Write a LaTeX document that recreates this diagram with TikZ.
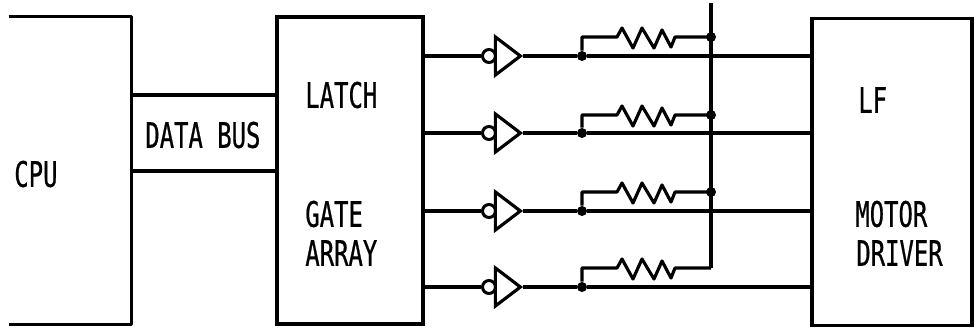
\documentclass[tikz,border=0pt]{standalone}
\usepackage{fontspec}
\setmainfont[FakeStretch=0.68,FakeBold=0.6]{DejaVu Sans Mono}
\usetikzlibrary{shapes.geometric}
\tikzset{
    wire/.style={line width=1.8pt, line join=round},
    blockbox/.style={draw, line width=1.8pt, minimum width=#1, minimum height=6.14cm, inner sep=0pt},
    openbox/.style={minimum width=2.44cm, minimum height=6.14cm, inner sep=0pt},
    inverter/.style={isosceles triangle, isosceles triangle apex angle=75, isosceles triangle stretches, draw, line width=1.8pt, minimum width=0.76cm, minimum height=0.5cm, inner sep=0pt, anchor=apex},
    bubble/.style={circle, draw, line width=1.7pt, minimum size=0.26cm, inner sep=0pt},
    junction/.style={circle, fill=black, minimum size=0.2cm, inner sep=0pt},
    label/.style={font=\fontsize{20}{24}\selectfont, inner sep=0pt, anchor=west}
}

\begin{document}
\begin{tikzpicture}[x=0.02cm, y=-0.02cm]
    \useasboundingbox (0,0) rectangle (980,329);
    % blocks
    \node[openbox] (cpu) at (70,170.5) {};
    \node[blockbox=2.92cm] (gate) at (350,170.5) {};
    \node[blockbox=3.2cm] (driver) at (892,172) {};
    \draw[wire] (cpu.north west) -- (cpu.north east) -- (cpu.south east) -- (cpu.south west);
    % data bus
    \coordinate (busa) at (131,95);
    \coordinate (busb) at (131,171);
    \draw[wire] (busa) -- (busa -| gate.west);
    \draw[wire] (busb) -- (busb -| gate.west);
    % rail
    \coordinate (railtop) at (711,3);
    \coordinate (raild) at (711,268);
    \draw[wire] (railtop) -- (raild);
    % four driver lines
    \foreach \n/\y/\r in {a/56/37,b/133/115,c/211/192,d/287/268}{
        \node[bubble] (bub\n) at (489,\y) {};
        \node[inverter] (inv\n) at (523,\y) {};
        \node[junction] (tap\n) at (582,\y) {};
        \coordinate (resl\n) at (617,\r);
        \coordinate (resr\n) at (675,\r);
        \coordinate (rail\n) at (711,\r);
        \draw[wire] (bub\n -| gate.east) -- (bub\n);
        \draw[wire] (inv\n.apex) -- (tap\n) -- (tap\n -| driver.west);
        \draw[wire] (tap\n) |- (resl\n) -- ++(5,-9) -- ++(11,20) -- ++(9,-20) -- ++(12,20) -- ++(8,-18) -- ++(9,17) -- (resr\n) -- (rail\n);
    }
    \foreach \n in {a,b,c}{
        \node[junction] at (rail\n) {};
    }
    % labels
    \node[label] (cputext) at (14,174) {CPU};
    \node[label] (bustext) at (145,135) {DATA BUS};
    \node[label] (latchtext) at (305,95) {LATCH};
    \node[label] (gatetext) at (305,214) {GATE};
    \node[label] (arraytext) at (305,253) {ARRAY};
    \node[label] (lftext) at (858,100) {LF};
    \node[label] (motortext) at (855,214) {MOTOR};
    \node[label] (drivertext) at (856,253) {DRIVER};
\end{tikzpicture}
\end{document}
